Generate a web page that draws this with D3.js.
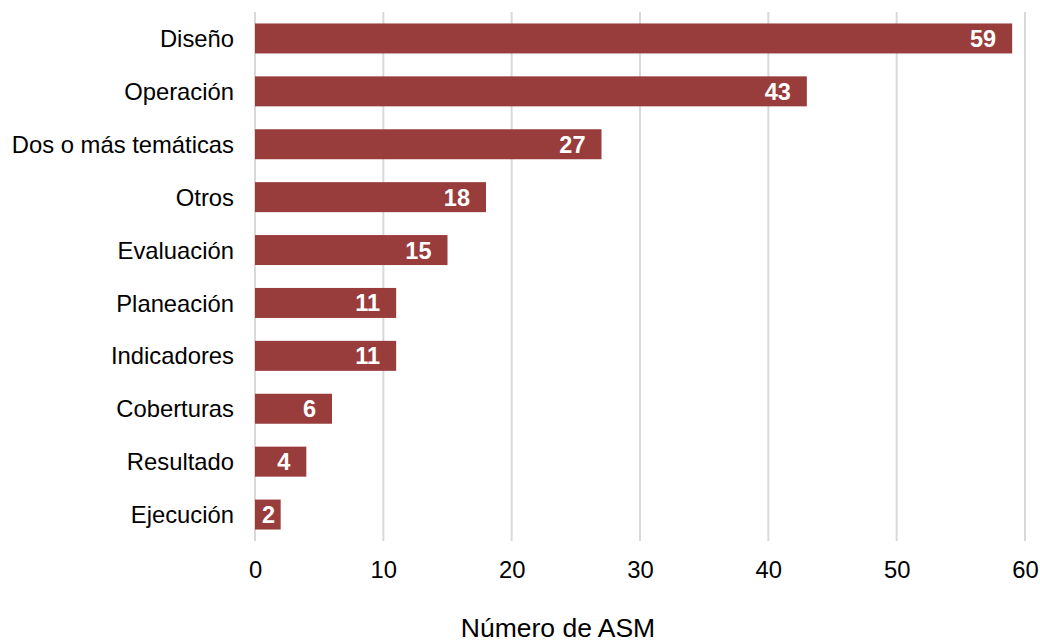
<!DOCTYPE html>
<html><head><meta charset="utf-8">
<script src="https://cdn.jsdelivr.net/npm/d3@7"></script>
<style>body{margin:0;background:#fff;} svg{display:block;}</style>
</head><body>
<script>
const categories = ["Diseño","Operación","Dos o más temáticas","Otros","Evaluación","Planeación","Indicadores","Coberturas","Resultado","Ejecución"];
const values = [59,43,27,18,15,11,11,6,4,2];
const tickValues = [0,10,20,30,40,50,60];
const axisTitle = "Número de ASM";

const W = 1040, H = 643;
const svg = d3.select("body").append("svg").attr("width", W).attr("height", H);
const font = "'Liberation Sans', Arial, sans-serif";

const x = d3.scaleLinear().domain([0,60]).range([255,1025]);
const y = d3.scaleBand().domain(categories).range([12,541]).paddingInner(0.433).paddingOuter(0.2165);

svg.append("g").selectAll("line").data(tickValues).join("line")
  .attr("x1", d=>x(d)).attr("x2", d=>x(d)).attr("y1", 12).attr("y2", 541)
  .attr("stroke", "#d9d9d9").attr("stroke-width", 2);

svg.append("g").selectAll("rect").data(values).join("rect")
  .attr("x", x(0)).attr("y", (d,i)=>y(categories[i]))
  .attr("width", d=>x(d)-x(0)).attr("height", y.bandwidth())
  .attr("fill", "#993c3c");

svg.append("g").selectAll("text").data(values).join("text")
  .attr("x", d=>Math.max(x(d)-16, x(0)+20)).attr("y", (d,i)=>y(categories[i])+y.bandwidth()/2)
  .attr("dy", "0.36em").attr("text-anchor", "end")
  .attr("fill", "#fff").attr("font-weight", "bold").attr("font-size", 23.5)
  .attr("font-family", font).text(d=>d);

const yAxis = d3.axisLeft(y).tickSize(0).tickPadding(21);
svg.append("g").attr("transform", `translate(${x(0)},0)`).call(yAxis)
  .call(g=>g.select(".domain").remove())
  .selectAll("text").attr("font-size", 23.8).attr("font-family", font).attr("fill", "#000").attr("dy","0.36em");

const xAxis = d3.axisBottom(x).tickValues(tickValues).tickSize(0).tickPadding(20);
svg.append("g").attr("transform", `translate(0,541)`).call(xAxis)
  .call(g=>g.select(".domain").remove())
  .selectAll("text").attr("font-size", 23.8).attr("font-family", font).attr("fill", "#000");

svg.append("text").attr("x", 558).attr("y", 637).attr("text-anchor","middle")
  .attr("font-size", 26.5).attr("font-family", font).attr("fill","#000").text(axisTitle);
</script>
</body></html>
